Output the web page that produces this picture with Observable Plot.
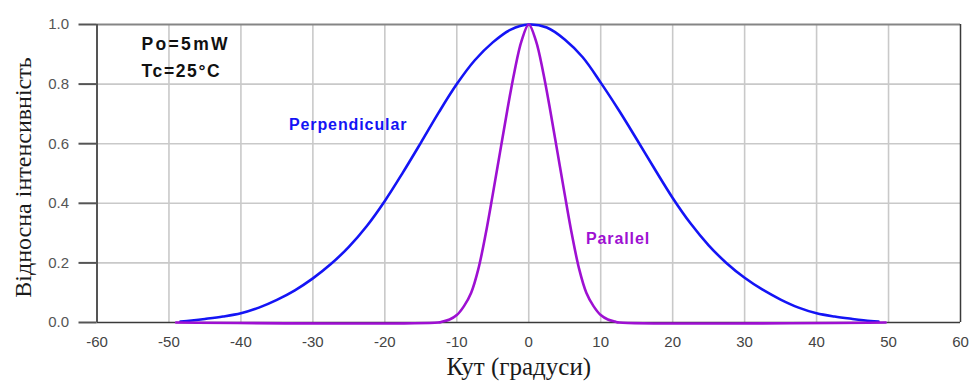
<!DOCTYPE html>
<html>
<head>
<meta charset="utf-8">
<script src="https://cdn.jsdelivr.net/npm/d3@7"></script>
<script src="https://cdn.jsdelivr.net/npm/@observablehq/plot@0.6"></script>
<style>
  html, body { margin: 0; padding: 0; background: #fff; }
  #chart svg { display: block; }
</style>
</head>
<body>
<div id="chart"></div>
<script>
// Far-field intensity of a laser diode vs. angle (Po = 5 mW, Tc = 25 °C)
const perpAngle = [-48.4, -47.5, -45, -42.5, -40, -37.5, -35, -32.5, -30, -27.5, -25, -22.5, -20, -17.5, -15, -12.5, -10, -7.5, -5, -2.5,
  0, 2.5, 5, 7.5, 10, 12.5, 15, 17.5, 20, 22.5, 25, 27.5, 30, 32.5, 35, 37.5, 40, 42.5, 45, 47.5, 48.6];
const perpIntensity = [0.003, 0.005, 0.012, 0.02, 0.031, 0.05, 0.076, 0.108, 0.148, 0.196, 0.254, 0.324, 0.408, 0.503, 0.603, 0.705, 0.80, 0.88, 0.94, 0.983,
  1.0, 0.99, 0.95, 0.89, 0.805, 0.713, 0.615, 0.515, 0.418, 0.332, 0.259, 0.199, 0.150, 0.110, 0.077, 0.05, 0.031, 0.02, 0.012, 0.005, 0.003];

const parAngle = [-49, -12.6, -12, -11, -10, -9, -8, -7, -6, -5, -4, -3, -2, -1, 0, 1, 2, 3, 4, 5, 6, 7, 8, 9, 10, 11, 12, 12.6, 49.6];
const parIntensity = [0, 0, 0.003, 0.01, 0.025, 0.055, 0.1, 0.18, 0.295, 0.43, 0.57, 0.71, 0.84, 0.945, 1.0, 0.945, 0.84, 0.71, 0.57, 0.43, 0.295, 0.18, 0.1, 0.055, 0.025, 0.01, 0.003, 0, 0];

const xTicks = [-60, -50, -40, -30, -20, -10, 0, 10, 20, 30, 40, 50, 60];
const yTicks = [0, 0.2, 0.4, 0.6, 0.8, 1.0];
const xGrid = [-50, -40, -30, -20, -10, 0, 10, 20, 30, 40, 50];
const yGrid = [0.2, 0.4, 0.6, 0.8];

const xTitle = "Кут (градуси)";
const yTitle = "Відносна інтенсивність";
const conditions = ["Po=5mW", "Tc=25°C"];
const seriesNames = ["Perpendicular", "Parallel"];

const perp = perpAngle.map((a, i) => ({angle: a, value: perpIntensity[i]}));
const par = parAngle.map((a, i) => ({angle: a, value: parIntensity[i]}));

const blue = "#1414f5";
const purple = "#9e10d2";
const sans = "'Liberation Sans', Arial, sans-serif";
const serif = "'Liberation Serif', 'Times New Roman', serif";

const chart = Plot.plot({
  width: 971,
  height: 381,
  marginLeft: 96.5,
  marginRight: 11,
  marginTop: 24,
  marginBottom: 59,
  style: {fontFamily: sans, background: "#fff", overflow: "visible"},
  x: {domain: [-60, 60]},
  y: {domain: [0, 1]},
  marks: [
    Plot.gridX(xGrid, {stroke: "#c9c9c9", strokeOpacity: 1, strokeWidth: 1.6}),
    Plot.gridY(yGrid, {stroke: "#c9c9c9", strokeOpacity: 1, strokeWidth: 1.6}),
    Plot.ruleY([1], {stroke: "#858585", strokeWidth: 2}),
    Plot.ruleX([60], {stroke: "#3a3a3a", strokeWidth: 1.5}),
    Plot.ruleY([0], {stroke: "#3a3a3a", strokeWidth: 1.6}),
    Plot.ruleX([-60], {stroke: "#555", strokeWidth: 2}),
    Plot.axisY({
      ticks: yTicks, tickFormat: d => d.toFixed(1), tickSize: 18, tickPadding: 10,
      fontSize: 15, color: "#555", strokeWidth: 2, label: null
    }),
    Plot.axisX({
      ticks: xTicks, tickFormat: d => String(d), tickSize: 0, tickPadding: 14,
      fontSize: 15, color: "#444", label: null
    }),
    Plot.line(perp, {x: "angle", y: "value", stroke: blue, strokeWidth: 2.6, curve: "catmull-rom"}),
    Plot.line(par, {x: "angle", y: "value", stroke: purple, strokeWidth: 2.6, curve: "catmull-rom"}),
    Plot.text([seriesNames[0]], {
      x: -25.1, y: 0.662, text: d => d, fill: blue, fontSize: 16, fontWeight: "bold",
      lineAnchor: "middle", textAnchor: "middle"
    }),
    Plot.text([seriesNames[1]], {
      x: 12.4, y: 0.281, text: d => d, fill: purple, fontSize: 16, fontWeight: "bold",
      lineAnchor: "middle", textAnchor: "middle"
    }),
    Plot.text([conditions[0]], {
      x: -53.8, y: 0.932, text: d => d, fill: "#111", fontSize: 17.5, fontWeight: "bold",
      lineAnchor: "middle", textAnchor: "start"
    }),
    Plot.text([conditions[1]], {
      x: -53.8, y: 0.843, text: d => d, fill: "#111", fontSize: 17.5, fontWeight: "bold",
      lineAnchor: "middle", textAnchor: "start"
    }),
    Plot.text([xTitle], {
      frameAnchor: "bottom", text: d => d, dy: 44.5, dx: -10, lineAnchor: "middle",
      textAnchor: "middle", fontFamily: serif, fontSize: 25, fill: "#1a1a1a"
    }),
    Plot.text([yTitle], {
      frameAnchor: "left", text: d => d, dx: -74, dy: 4, rotate: -90, lineAnchor: "middle",
      textAnchor: "middle", fontFamily: serif, fontSize: 24, fill: "#1a1a1a"
    })
  ]
});

// letter spacing for the in-chart labels
d3.select(chart).selectAll("text").each(function () {
  const t = this.textContent;
  if (t === seriesNames[0] || t === seriesNames[1]) this.style.letterSpacing = "0.9px";
  if (t === conditions[0]) this.style.letterSpacing = "2.3px";
  if (t === conditions[1]) this.style.letterSpacing = "1.6px";
});

document.getElementById("chart").appendChild(chart);
</script>
</body>
</html>
